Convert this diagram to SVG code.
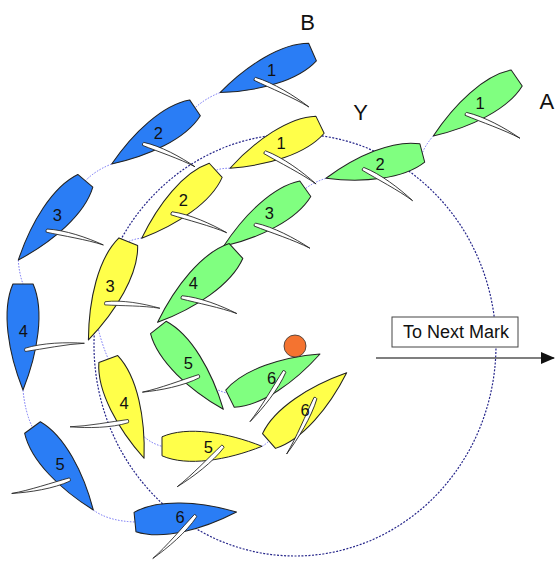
<svg xmlns="http://www.w3.org/2000/svg" xmlns:xlink="http://www.w3.org/1999/xlink" width="555" height="561" viewBox="0 0 555 561">
  <style>
    .hull { stroke: #222; stroke-width: 1; stroke-linejoin: round; }
    .blue { fill: #2a7df5; }
    .yellow { fill: #ffff4a; }
    .green { fill: #80ff80; }
    .sail { fill: #ffffff; stroke: #222; stroke-width: 0.8; stroke-linejoin: round; }
    .num { font-family: "Liberation Sans", Arial, sans-serif; font-size: 16.5px; fill: #111; text-anchor: middle; }
    .big { font-family: "Liberation Sans", Arial, sans-serif; font-size: 22px; fill: #111; }
    .track { fill: none; stroke: #6f6ff5; stroke-width: 1; stroke-dasharray: 1.5 1.5; }
    .zone { fill: none; stroke: #26268a; stroke-width: 1.2; stroke-dasharray: 2 1.5; }
  </style>
  <defs>
    <!-- hull: transom at x=0, bow at x=100 -->
    <path id="hull" d="M0,-9.5 C25,-20.5 65,-14 100,0 C65,14 25,20.5 0,9.5 Z"/>
    <!-- sail: mast at x=0, clew at x=60 -->
    <path id="sail" d="M0,-1 C18,-4.8 42,-3 60,0 C42,-1 18,1.5 0,2.2 Q-1,0.5 0,-1 Z"/>
    <marker id="arrowhead" markerWidth="14" markerHeight="12" refX="13" refY="6" orient="auto" markerUnits="userSpaceOnUse">
      <path d="M0,0 L14,6 L0,12 Z" fill="#111"/>
    </marker>
  </defs>

  <rect width="555" height="561" fill="#ffffff"/>

  <!-- zone circle round the mark -->
  <ellipse class="zone" cx="295" cy="345" rx="201" ry="211"/>

  <!-- tracks between successive positions -->
  <g id="connectors">
    <path class="track" d="M220,92.6 Q206,98 195,107.8"/>
    <path class="track" d="M111.7,164 Q96,170 85.3,180.8"/>
    <path class="track" d="M18.3,260 Q19,273 23,284"/>
    <path class="track" d="M23,390 Q25,412 32.5,427.5"/>
    <path class="track" d="M93.3,510 Q108,521 135,522"/>
    <path class="track" d="M230,168.3 Q222,168 215.7,170.3"/>
    <path class="track" d="M142,238 Q134,239 128.3,241.7"/>
    <path class="track" d="M96,318 Q100,340 108.3,359"/>
    <path class="track" d="M132,420 Q142,441 162,446.3"/>
    <path class="track" d="M262,446.5 Q266,444 269,441"/>
    <path class="track" d="M433.3,136 Q426,144 422.3,153"/>
    <path class="track" d="M326,178.3 Q314,182 305.3,188.7"/>
    <path class="track" d="M223.6,246.3 Q230,248 236,251"/>
    <path class="track" d="M200,380 Q214,390 230,394"/>
  </g>

  <!-- blue fleet -->
  <g id="blue-1">
    <use xlink:href="#hull" class="hull blue" transform="translate(312.5,52) rotate(156.3) scale(1.01)"/>
    <use xlink:href="#sail" class="sail" transform="translate(255,78.3) rotate(28) scale(1.017,1)"/>
    <text class="num" x="271.7" y="76">1</text>
  </g>
  <g id="blue-2">
    <use xlink:href="#hull" class="hull blue" transform="translate(195,107.8) rotate(146) scale(1.005)"/>
    <use xlink:href="#sail" class="sail" transform="translate(143.3,143.3) rotate(24.4) scale(0.945,1)"/>
    <text class="num" x="158.3" y="138.7">2</text>
  </g>
  <g id="blue-3">
    <use xlink:href="#hull" class="hull blue" transform="translate(85.3,180.8) rotate(130.2) scale(1.037)"/>
    <use xlink:href="#sail" class="sail" transform="translate(46.7,230) rotate(14.8) scale(0.977,1)"/>
    <text class="num" x="57.3" y="221">3</text>
  </g>
  <g id="blue-4">
    <use xlink:href="#hull" class="hull blue" transform="translate(23,284) rotate(90) scale(1.06)"/>
    <use xlink:href="#sail" class="sail" transform="translate(25,349.3) rotate(-5.8) scale(0.995,1)"/>
    <text class="num" x="23.3" y="336.7">4</text>
  </g>
  <g id="blue-5">
    <use xlink:href="#hull" class="hull blue" transform="translate(32.5,427.5) rotate(53.6) scale(1.025)"/>
    <use xlink:href="#sail" class="sail" transform="translate(70,480) rotate(167) scale(0.997,1)"/>
    <text class="num" x="60" y="470">5</text>
  </g>
  <g id="blue-6">
    <use xlink:href="#hull" class="hull blue" transform="translate(135,522) rotate(-5.6) scale(1.02)"/>
    <use xlink:href="#sail" class="sail" transform="translate(196,516) rotate(135.5) scale(1.01,1)"/>
    <text class="num" x="180" y="523">6</text>
  </g>

  <!-- yellow fleet -->
  <g id="yellow-1">
    <use xlink:href="#hull" class="hull yellow" transform="translate(320,124.7) rotate(154.2) scale(1)"/>
    <use xlink:href="#sail" class="sail" transform="translate(265,151.7) rotate(32.3) scale(1.007,1)"/>
    <text class="num" x="281" y="149">1</text>
  </g>
  <g id="yellow-2">
    <use xlink:href="#hull" class="hull yellow" transform="translate(215.7,170.3) rotate(137.4) scale(1.005)"/>
    <use xlink:href="#sail" class="sail" transform="translate(171.7,212.7) rotate(20) scale(0.975,1)"/>
    <text class="num" x="183.3" y="206">2</text>
  </g>
  <g id="yellow-3">
    <use xlink:href="#hull" class="hull yellow" transform="translate(128.3,241.7) rotate(112.1) scale(1.06)"/>
    <use xlink:href="#sail" class="sail" transform="translate(105,302.7) rotate(5.8) scale(0.92,1)"/>
    <text class="num" x="110" y="292">3</text>
  </g>
  <g id="yellow-4">
    <use xlink:href="#hull" class="hull yellow" transform="translate(108.3,359) rotate(70.2) scale(1.055)"/>
    <use xlink:href="#sail" class="sail" transform="translate(128.3,421.7) rotate(175) scale(0.975,1)"/>
    <text class="num" x="124" y="409.3">4</text>
  </g>
  <g id="yellow-5">
    <use xlink:href="#hull" class="hull yellow" transform="translate(162,446.3) rotate(0) scale(1)"/>
    <use xlink:href="#sail" class="sail" transform="translate(223.3,446.7) rotate(139) scale(1.017,1)"/>
    <text class="num" x="208.3" y="452.7">5</text>
  </g>
  <g id="yellow-6">
    <use xlink:href="#hull" class="hull yellow" transform="translate(269,441) rotate(-41.3) scale(1.034)"/>
    <use xlink:href="#sail" class="sail" transform="translate(316,398.3) rotate(117.8) scale(1.05,1)"/>
    <text class="num" x="305" y="416">6</text>
  </g>

  <!-- green fleet -->
  <g id="green-1">
    <use xlink:href="#hull" class="hull green" transform="translate(516.7,78) rotate(145.2) scale(1.016)"/>
    <use xlink:href="#sail" class="sail" transform="translate(466,113.3) rotate(24.8) scale(0.99,1)"/>
    <text class="num" x="480" y="108.7">1</text>
  </g>
  <g id="green-2">
    <use xlink:href="#hull" class="hull green" transform="translate(422.3,153) rotate(165.3) scale(0.996)"/>
    <use xlink:href="#sail" class="sail" transform="translate(363.3,168.3) rotate(33.3) scale(0.983,1)"/>
    <text class="num" x="380" y="170">2</text>
  </g>
  <g id="green-3">
    <use xlink:href="#hull" class="hull green" transform="translate(305.3,188.7) rotate(144.8) scale(1)"/>
    <use xlink:href="#sail" class="sail" transform="translate(255,224) rotate(23.8) scale(1,1)"/>
    <text class="num" x="269.3" y="219.3">3</text>
  </g>
  <g id="green-4">
    <use xlink:href="#hull" class="hull green" transform="translate(236,251) rotate(137.7) scale(1.06)"/>
    <use xlink:href="#sail" class="sail" transform="translate(181.7,296.7) rotate(17) scale(0.96,1)"/>
    <text class="num" x="193.3" y="289.3">4</text>
  </g>
  <g id="green-5">
    <use xlink:href="#hull" class="hull green" transform="translate(158.3,327.5) rotate(51.5) scale(1.045)"/>
    <use xlink:href="#sail" class="sail" transform="translate(199.3,376.7) rotate(164.8) scale(0.983,1)"/>
    <text class="num" x="188.3" y="368.7">5</text>
  </g>
  <g id="green-6">
    <use xlink:href="#hull" class="hull green" transform="translate(230,398.7) rotate(-26.4) scale(1.005)"/>
    <use xlink:href="#sail" class="sail" transform="translate(285,371.7) rotate(125) scale(1.017,1)"/>
    <text class="num" x="271.7" y="384.3">6</text>
  </g>

  <!-- the mark -->
  <g id="mark">
    <circle cx="295" cy="346" r="11" fill="#f47330" stroke="#333" stroke-width="0.8"/>
  </g>

  <!-- course labels -->
  <text class="big" x="307.5" y="29.5" text-anchor="middle">B</text>
  <text class="big" x="360.5" y="120" text-anchor="middle">Y</text>
  <text class="big" x="539.5" y="108.5">A</text>

  <!-- heading to the next mark -->
  <g id="next-mark">
    <rect x="392" y="317" width="126" height="30" fill="#ffffff" stroke="#444" stroke-width="1"/>
    <text x="456" y="337.5" text-anchor="middle" font-family="'Liberation Sans', Arial, sans-serif" font-size="18" fill="#111">To Next Mark</text>
  </g>
  <g id="arrow">
    <line x1="376" y1="358" x2="554" y2="358" stroke="#555" stroke-width="1.5" marker-end="url(#arrowhead)"/>
  </g>
</svg>
